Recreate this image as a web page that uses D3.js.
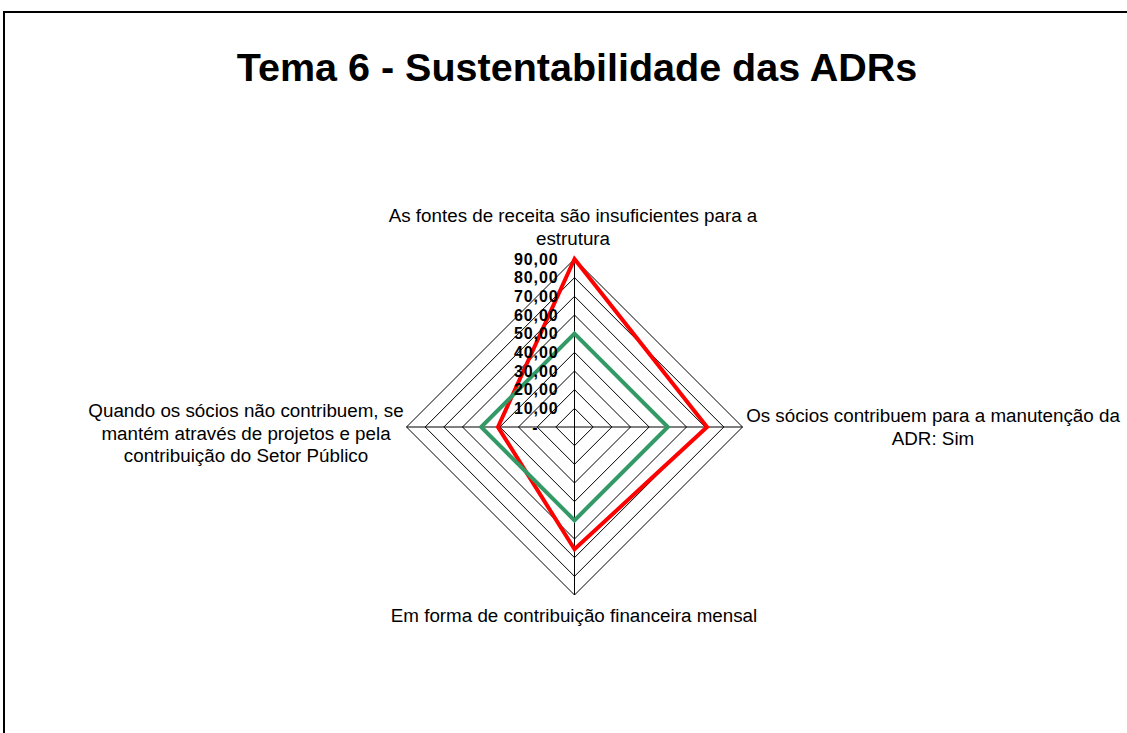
<!DOCTYPE html>
<html>
<head>
<meta charset="utf-8">
<script src="https://cdn.jsdelivr.net/npm/d3@7"></script>
<style>
  body { margin: 0; background: #fff; }
  svg { display: block; font-family: "Liberation Sans", Arial, sans-serif; }
</style>
</head>
<body>
<div id="chart"></div>
<script>
// axis categories (clockwise from top), each as wrapped lines
var categories = [
    ["As fontes de receita são insuficientes para a", "estrutura"],
    ["Os sócios contribuem para a manutenção da", "ADR: Sim"],
    ["Em forma de contribuição financeira mensal"],
    ["Quando os sócios não contribuem, se", "mantém através de projetos e pela", "contribuição do Setor Público"]
];
var seriesRed = [90, 71, 65.5, 41];
var seriesGreen = [50, 50, 50, 50];
var tickValues = [0, 10, 20, 30, 40, 50, 60, 70, 80, 90];
var tickLabels = ["-", "10,00", "20,00", "30,00", "40,00", "50,00", "60,00", "70,00", "80,00", "90,00"];

var width = 1127, height = 733;
var cx = 574.5, cy = 427, radius = 168;

var svg = d3.select("#chart").append("svg")
    .attr("width", width)
    .attr("height", height);

svg.append("rect").attr("width", width).attr("height", height).attr("fill", "#fff");

// outer frame of the chart area
svg.append("path")
    .attr("d", "M4," + height + "V12H" + width)
    .attr("fill", "none")
    .attr("stroke", "#000")
    .attr("stroke-width", 2);

svg.append("text")
    .attr("x", 577)
    .attr("y", 81)
    .attr("text-anchor", "middle")
    .attr("font-size", 39.5)
    .attr("font-weight", "bold")
    .text("Tema 6 - Sustentabilidade das ADRs");

var r = d3.scaleLinear().domain([0, 90]).range([0, radius]);
var angle = d3.scaleLinear().domain([0, categories.length]).range([0, 2 * Math.PI]);

var g = svg.append("g").attr("transform", "translate(" + cx + "," + cy + ")");

function point(i, v) {
    var a = angle(i);
    return [Math.sin(a) * r(v), -Math.cos(a) * r(v)];
}

// grid rings
tickValues.slice(1).forEach(function (t) {
    g.append("path")
        .attr("d", d3.line()(categories.map(function (c, i) { return point(i, t); })) + "Z")
        .attr("fill", "none")
        .attr("stroke", "#000")
        .attr("stroke-width", 1);
});

// spokes
categories.forEach(function (c, i) {
    var p = point(i, 90);
    g.append("line")
        .attr("x1", 0).attr("y1", 0)
        .attr("x2", p[0]).attr("y2", p[1])
        .attr("stroke", "#000")
        .attr("stroke-width", 1);
});

var radarLine = d3.line().curve(d3.curveLinearClosed);

[[seriesRed, "#ff0000"], [seriesGreen, "#339966"]].forEach(function (s) {
    g.append("path")
        .attr("d", radarLine(s[0].map(function (v, i) { return point(i, v); })))
        .attr("fill", "none")
        .attr("stroke", s[1])
        .attr("stroke-width", 4)
        .attr("stroke-linejoin", "miter");
});

// value labels along top spoke
g.selectAll(".tick")
    .data(tickValues)
    .enter().append("text")
    .attr("class", "tick")
    .attr("x", function (d, i) { return i === 0 ? -36 : -16; })
    .attr("y", function (d) { return -r(d); })
    .attr("dy", "0.36em")
    .attr("text-anchor", "end")
    .attr("font-size", 16)
    .attr("letter-spacing", 0.9)
    .attr("font-weight", "bold")
    .text(function (d, i) { return tickLabels[i]; });

// category labels
var labelPos = [
    {x: 573, y: 222},
    {x: 933, y: 422},
    {x: 574, y: 622},
    {x: 246, y: 417}
];
categories.forEach(function (lines, i) {
    var t = svg.append("text")
        .attr("x", labelPos[i].x)
        .attr("y", labelPos[i].y)
        .attr("text-anchor", "middle")
        .attr("font-size", 18.8)
        .attr("fill", "#000");
    lines.forEach(function (l, j) {
        t.append("tspan")
            .attr("x", labelPos[i].x)
            .attr("dy", j === 0 ? 0 : 22.5)
            .text(l);
    });
});
</script>
</body>
</html>
